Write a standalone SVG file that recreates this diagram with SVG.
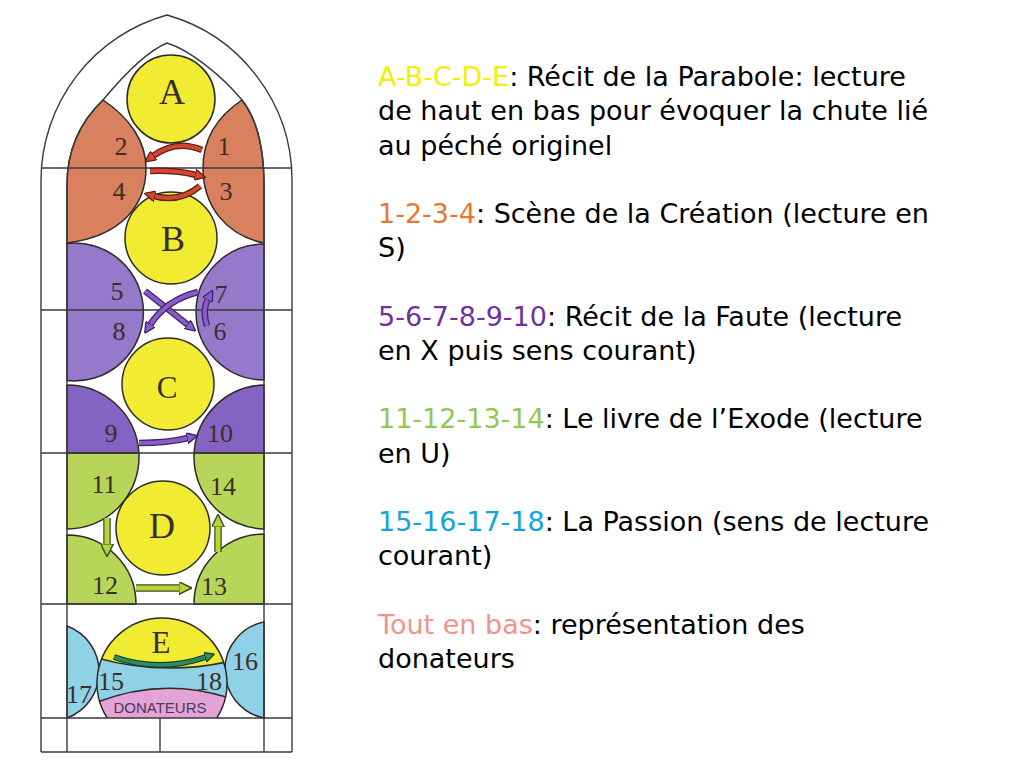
<svg xmlns="http://www.w3.org/2000/svg" width="1024" height="768" viewBox="0 0 1024 768">
<style>
.ln{fill:none;stroke:#3a3a3a;stroke-width:1.4}
.sh{stroke:#2e2a28;stroke-width:1.5}
.yel{fill:#f1ec32}
.org{fill:#d9805e}
.pur1{fill:#9579cb}
.pur2{fill:#8463c2}
.grn{fill:#b6d559}
.blu{fill:#8fd2e8}
.pnk{fill:#e3a3d6}
.lbl{font-family:"Liberation Serif",serif;fill:#3a2e26;text-anchor:middle}
.big{font-size:36px}
.mid{font-size:31px}
.num{font-size:26px}
.don{font-family:"Liberation Sans",sans-serif;font-size:15px;fill:#4a3a5a;text-anchor:middle}
.txt{font-family:"DejaVu Sans",sans-serif;font-size:27px;fill:#000}
.r-o{fill:none;stroke:#5b1f14;stroke-width:6.5}
.r-i{fill:none;stroke:#d4472f;stroke-width:4}
.p-o{fill:none;stroke:#3b2468;stroke-width:6.5}
.p-i{fill:none;stroke:#8a5cc8;stroke-width:4}
.g-o{fill:none;stroke:#3d4a18;stroke-width:7.5}
.g-i{fill:none;stroke:#b7d53a;stroke-width:5}
.e-o{fill:none;stroke:#153d2a;stroke-width:6}
.e-i{fill:none;stroke:#2f8a5e;stroke-width:3.5}
</style>
<defs>
<marker id="mR" viewBox="0 0 10 10" refX="1" refY="5" markerWidth="11" markerHeight="11" markerUnits="userSpaceOnUse" orient="auto"><path d="M0,0 L10,5 L0,10 Z" fill="#d4472f" stroke="#5b1f14" stroke-width="1.2"/></marker>
<marker id="mP" viewBox="0 0 10 10" refX="1" refY="5" markerWidth="11" markerHeight="11" markerUnits="userSpaceOnUse" orient="auto"><path d="M0,0 L10,5 L0,10 Z" fill="#8a5cc8" stroke="#3b2468" stroke-width="1.2"/></marker>
<marker id="mG" viewBox="0 0 10 10" refX="1" refY="5" markerWidth="13" markerHeight="13" markerUnits="userSpaceOnUse" orient="auto"><path d="M0,0 L10,5 L0,10 Z" fill="#b7d53a" stroke="#3d4a18" stroke-width="1.1"/></marker>
<marker id="mE" viewBox="0 0 10 10" refX="1" refY="5" markerWidth="10" markerHeight="10" markerUnits="userSpaceOnUse" orient="auto"><path d="M0,0 L10,5 L0,10 Z" fill="#2f8a5e" stroke="#153d2a" stroke-width="1.2"/></marker>
<clipPath id="clipE"><path d="M107.2,718 A65,65 0 1 1 216.8,718 Z"/></clipPath>
</defs>
<rect width="1024" height="768" fill="#fff"/>

<g id="panel-2-4"><path class="org sh" d="M103,100 C130,118 146,142 146,168 C146,205 122,236 67,243 L67,185 C67,150 80,122 103,100 Z"/><text class="lbl num" x="121" y="155">2</text><text class="lbl num" x="119" y="200">4</text></g>
<g id="panel-1-3"><path class="org sh" d="M242,100 C215,118 203,142 203,168 C203,205 225,235 264,243 L264,185 C264,148 256,118 242,100 Z"/><text class="lbl num" x="224" y="155">1</text><text class="lbl num" x="226" y="200">3</text></g>
<g id="panel-5-8"><path class="pur1 sh" d="M67,243.4 A69,69 0 1 1 67,380.6 Z"/><text class="lbl num" x="117" y="300">5</text><text class="lbl num" x="119" y="340">8</text></g>
<g id="panel-7-6"><path class="pur1 sh" d="M264,244 A68,68 0 1 0 264,380 Z"/><text class="lbl num" x="221" y="303">7</text><text class="lbl num" x="220" y="340">6</text></g>
<g id="panel-9"><path class="pur2 sh" d="M67,385 A72,72 0 0 1 138.9,453 L67,453 Z"/><text class="lbl num" x="111" y="442">9</text></g>
<g id="panel-10"><path class="pur2 sh" d="M264,385 A72,72 0 0 0 194.1,453 L264,453 Z"/><text class="lbl num" x="220" y="442">10</text></g>
<g id="panel-11"><path class="grn sh" d="M67,453 L138.9,453 A72,72 0 0 1 67,529 Z"/><text class="lbl num" x="104" y="493">11</text></g>
<g id="panel-14"><path class="grn sh" d="M264,453 L194.1,453 A72,72 0 0 0 264,529 Z"/><text class="lbl num" x="223" y="495">14</text></g>
<g id="panel-12"><path class="grn sh" d="M67,535 A69,69 0 0 1 136,604 L67,604 Z"/><text class="lbl num" x="105" y="594">12</text></g>
<g id="panel-13"><path class="grn sh" d="M264,534 A70,70 0 0 0 194,604 L264,604 Z"/><text class="lbl num" x="214" y="595">13</text></g>
<g id="panel-17"><path class="blu sh" d="M67,626 A49,49 0 0 1 67,718 Z"/><text class="lbl num" x="79" y="703">17</text></g>
<g id="panel-16"><path class="blu sh" d="M264,622 A49,49 0 0 0 264,718 Z"/><text class="lbl num" x="245" y="670">16</text></g>

<g id="circle-A"><circle class="yel sh" cx="171" cy="99" r="44"/><text class="lbl big" x="172" y="104">A</text></g>
<g id="circle-B"><circle class="yel sh" cx="171" cy="238" r="46"/><text class="lbl big" x="173" y="251">B</text></g>
<g id="circle-C"><circle class="yel sh" cx="168" cy="384" r="46"/><text class="lbl mid" x="167" y="398">C</text></g>
<g id="circle-D"><circle class="yel sh" cx="163" cy="528" r="47"/><text class="lbl big" x="162" y="538">D</text></g>
<g id="circle-E">
<path class="blu" d="M107.2,718 A65,65 0 1 1 216.8,718 Z"/>
<g clip-path="url(#clipE)">
<path class="yel" d="M90,600 L235,600 L235,660 Q163,678 90,656 Z"/>
<path class="pnk" d="M90,705 Q163,674 235,700 L235,720 L90,720 Z"/>
<path class="sh" fill="none" d="M90,656 Q163,678 235,660"/>
<path class="sh" fill="none" d="M90,705 Q163,674 235,700"/>
</g>
<path class="sh" fill="none" d="M107.2,718 A65,65 0 1 1 216.8,718"/>
<text class="lbl mid" x="161" y="653">E</text>
<text class="lbl num" x="111" y="690">15</text>
<text class="lbl num" x="209" y="690">18</text>
<text class="don" x="160" y="713">DONATEURS</text>
</g>

<g id="frame">
<path class="ln" d="M41,752 L41,180 A172,172 0 0 1 167,15 A172,172 0 0 1 292,180 L292,752"/>
<path class="ln" d="M67,752 L67,185 C67,150 80,122 103,100 C118,82 145,52 167,43 C190,50 222,76 242,100 C256,118 264,148 264,185 L264,752"/>
<path class="ln" d="M41,168 H292 M41,310 H292 M41,453 H292 M41,604 H292 M41,718 H292 M41,752 H292 M160,718 V752"/>
</g>

<g id="connectors">
<path class="r-o" d="M202,150 Q176,139 153,156"/><path class="r-i" d="M202,150 Q176,139 153,156" marker-end="url(#mR)"/>
<path class="r-o" d="M150,171 Q176,170 196,175"/><path class="r-i" d="M150,171 Q176,170 196,175" marker-end="url(#mR)"/>
<path class="r-o" d="M200,186 Q180,203 154,196"/><path class="r-i" d="M200,186 Q180,203 154,196" marker-end="url(#mR)"/>
<path class="p-o" d="M145,291 L188,325"/><path class="p-i" d="M145,291 L188,325" marker-end="url(#mP)"/>
<path class="p-o" d="M198,292 Q166,300 150,325"/><path class="p-i" d="M198,292 Q166,300 150,325" marker-end="url(#mP)"/>
<path class="p-o" d="M207,326 Q202,310 208,299"/><path class="p-i" d="M207,326 Q202,310 208,299" marker-end="url(#mP)"/>
<path class="p-o" d="M139,443 Q168,443 188,438"/><path class="p-i" d="M139,443 Q168,443 188,438" marker-end="url(#mP)"/>
<path class="g-o" d="M107,518 L107,545"/><path class="g-i" d="M107,518 L107,545" marker-end="url(#mG)"/>
<path class="g-o" d="M218,552 L218,526"/><path class="g-i" d="M218,552 L218,526" marker-end="url(#mG)"/>
<path class="g-o" d="M136,588 L180,588"/><path class="g-i" d="M136,588 L180,588" marker-end="url(#mG)"/>
<path class="e-o" d="M114,657 Q160,673 206,657"/><path class="e-i" d="M114,657 Q160,673 206,657" marker-end="url(#mE)"/>
</g>

<g id="legend" class="txt">
<text x="378" y="86"><tspan fill="#f2f000">A-B-C-D-E</tspan>: Récit de la Parabole: lecture</text>
<text x="378" y="120">de haut en bas pour évoquer la chute lié</text>
<text x="378" y="155">au péché originel</text>
<text x="378" y="223"><tspan fill="#e8782e">1-2-3-4</tspan>: Scène de la Création (lecture en</text>
<text x="378" y="257">S)</text>
<text x="378" y="326"><tspan fill="#7030a0">5-6-7-8-9-10</tspan>: Récit de la Faute (lecture</text>
<text x="378" y="360">en X puis sens courant)</text>
<text x="378" y="428"><tspan fill="#8fc951">11-12-13-14</tspan>: Le livre de l’Exode (lecture</text>
<text x="378" y="463">en U)</text>
<text x="378" y="531"><tspan fill="#14a3df">15-16-17-18</tspan>: La Passion (sens de lecture</text>
<text x="378" y="565">courant)</text>
<text x="378" y="634"><tspan fill="#f4928a">Tout en bas</tspan>: représentation des</text>
<text x="378" y="668">donateurs</text>
</g>
</svg>
